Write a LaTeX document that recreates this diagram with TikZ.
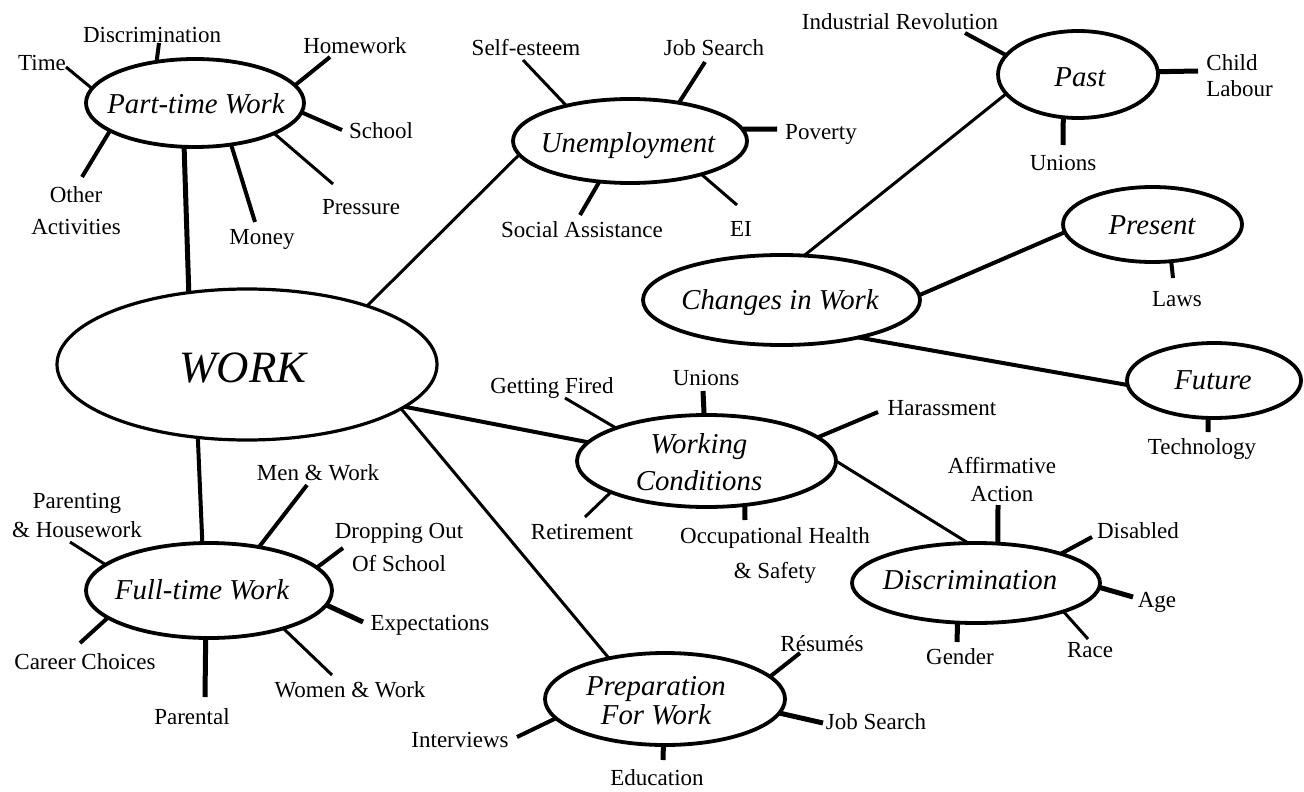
\documentclass[tikz,border=0pt]{standalone}
\usepackage{fontspec}
\setmainfont{Liberation Serif}
\usetikzlibrary{shapes.geometric}

\tikzset{
  topic/.style={draw, ellipse, line width=1.9pt, inner sep=0pt, outer sep=0pt, fill=white},
  topictext/.style={font=\fontsize{14.4}{18}\selectfont\itshape, inner sep=0pt, text height=9.5pt, text depth=0pt},
  topictwo/.style={font=\fontsize{14.4}{18.5}\selectfont\itshape, inner sep=0pt, align=center},
  leaf/.style={font=\fontsize{11.5}{15}\selectfont, inner sep=0pt, text height=7.6pt, text depth=0pt},
  leaftwo/.style={font=\fontsize{11.5}{15}\selectfont, inner sep=0pt, align=center},
  thinline/.style={line width=1.5pt},
  spoke/.style={line width=2pt},
  heavy/.style={line width=2.5pt},
}

\begin{document}
\begin{tikzpicture}[x=0.5pt, y=-0.5pt]
\useasboundingbox (0,0) rectangle (1304,791);

% ---------- topic ellipses ----------
\node[topic, line width=1.6pt, minimum width=190pt, minimum height=75.5pt] (work) at (247,364.5) {};
\node[topic, minimum width=109pt, minimum height=44pt] (pt) at (195,103) {};
\node[topic, minimum width=117pt, minimum height=42pt] (un) at (630,141) {};
\node[topic, minimum width=80pt, minimum height=43.5pt] (past) at (1078,74.5) {};
\node[topic, minimum width=89.5pt, minimum height=37.5pt] (pres) at (1152.5,224.5) {};
\node[topic, minimum width=87pt, minimum height=37.5pt] (fut) at (1214,380.5) {};
\node[topic, minimum width=138.5pt, minimum height=45pt] (chg) at (781.5,300) {};
\node[topic, minimum width=129.5pt, minimum height=46pt] (wc) at (706.5,461) {};
\node[topic, minimum width=124pt, minimum height=40pt] (disc) at (976,583) {};
\node[topic, minimum width=123pt, minimum height=47.5pt] (ft) at (209,590.5) {};
\node[topic, minimum width=120pt, minimum height=46pt] (prep) at (665,699) {};

% ---------- topic texts ----------
\node[inner sep=0pt, font=\fontsize{22.4}{26}\selectfont\itshape, text height=14.8pt, text depth=0pt] (workT) at (243,368) {WORK};
\node[topictext] (ptT) at (196,104) {Part-time Work};
\node[topictext] (unT) at (628,143) {Unemployment};
\node[topictext] (pastT) at (1080,77) {Past};
\node[topictext] (presT) at (1152,225) {Present};
\node[topictext] (futT) at (1213,380) {Future};
\node[topictext] (chgT) at (780,300) {Changes in Work};
\node[topictwo] (wcT) at (699,462) {Working\\Conditions};
\node[topictext] (discT) at (970,580) {Discrimination};
\node[topictext] (ftT) at (202,590) {Full-time Work};
\node[topictwo, font=\fontsize{14.4}{14.5}\selectfont\itshape] (prepT) at (656,701) {Preparation\\For Work};

% ---------- leaf labels ----------
% Part-time Work
\node[leaf] (lTime) at (42,63) {Time};
\node[leaf] (lDiscPT) at (152,35) {Discrimination};
\node[leaf] (lHome) at (355,46) {Homework};
\node[leaf] (lSchool) at (381,131) {School};
\node[leaf] (lPress) at (361,207) {Pressure};
\node[leaf] (lMoney) at (262,237) {Money};
\node[leaftwo, font=\fontsize{11.5}{16}\selectfont] (lOther) at (76,211) {Other\\Activities};
% Unemployment
\node[leaf] (lSelf) at (526,48) {Self-esteem};
\node[leaf] (lJobU) at (714,48) {Job Search};
\node[leaf] (lPov) at (821,132) {Poverty};
\node[leaf] (lEI) at (741,229) {EI};
\node[leaf] (lSoc) at (582,230) {Social Assistance};
% Past / Present / Future
\node[leaf] (lInd) at (900,22) {Industrial Revolution};
\node[leaftwo, align=left, anchor=west, font=\fontsize{11.5}{13}\selectfont] (lChild) at (1206,76) {Child\\Labour};
\node[leaf] (lUnP) at (1063,163) {Unions};
\node[leaf] (lLaws) at (1177,299) {Laws};
\node[leaf] (lTech) at (1202,447) {Technology};
% Working Conditions
\node[leaf] (lFired) at (552,386) {Getting Fired};
\node[leaf] (lUnW) at (706,378) {Unions};
\node[leaf] (lHar) at (942,408) {Harassment};
\node[leaf] (lRet) at (582,532) {Retirement};
\node[leaftwo, font=\fontsize{11.5}{17.5}\selectfont] (lOcc) at (775,555) {Occupational Health\\\& Safety};
% Discrimination
\node[leaftwo, font=\fontsize{11.5}{14}\selectfont] (lAff) at (1002,480) {Affirmative\\Action};
\node[leaf] (lDis) at (1138,531) {Disabled};
\node[leaf] (lAge) at (1157,600) {Age};
\node[leaf] (lRace) at (1090,650) {Race};
\node[leaf] (lGen) at (960,657) {Gender};
% Full-time Work
\node[leaf] (lMen) at (318,473) {Men \& Work};
\node[leaftwo, font=\fontsize{11.5}{16.5}\selectfont] (lDrop) at (399,547) {Dropping Out\\Of School};
\node[leaf] (lExp) at (430,623) {Expectations};
\node[leaf] (lWom) at (350,690) {Women \& Work};
\node[leaf] (lPar) at (192,717) {Parental};
\node[leaf] (lCar) at (85,662) {Career Choices};
\node[leaftwo, font=\fontsize{11.5}{14.5}\selectfont] (lHouse) at (77,515) {Parenting\\\& Housework};
% Preparation For Work
\node[leaf] (lRes) at (822,644) {Résumés};
\node[leaf] (lJobP) at (876,722) {Job Search};
\node[leaf] (lInt) at (460,740) {Interviews};
\node[leaf] (lEdu) at (657,778) {Education};

% ---------- free ends of the spokes ----------
\coordinate (eTime) at (66,67);
\coordinate (eDiscPT) at (159,43);
\coordinate (eHome) at (330,57);
\coordinate (eSchool) at (342,130);
\coordinate (ePress) at (333,184);
\coordinate (eMoney) at (255,222);
\coordinate (eOther) at (82,177);
\coordinate (eSelf) at (523,60);
\coordinate (eJobU) at (705,62);
\coordinate (ePov) at (777,129);
\coordinate (eEI) at (737,205);
\coordinate (eSoc) at (580,215);
\coordinate (eInd) at (965,33);
\coordinate (eChild) at (1198,71);
\coordinate (eUnP) at (1063,145);
\coordinate (eLaws) at (1173,278);
\coordinate (eTech) at (1208,432);
\coordinate (eFired) at (565,398);
\coordinate (eUnW) at (703,391);
\coordinate (eHar) at (878,412);
\coordinate (eRet) at (585,517);
\coordinate (eOcc) at (745,520);
\coordinate (eAff) at (998,505);
\coordinate (eDis) at (1092,537);
\coordinate (eAge) at (1133,597);
\coordinate (eRace) at (1088,639);
\coordinate (eGen) at (957,642);
\coordinate (eMen) at (307,485);
\coordinate (eDrop) at (343,548);
\coordinate (eExp) at (363,622);
\coordinate (eWom) at (332,675);
\coordinate (ePar) at (205,697);
\coordinate (eCar) at (80,643);
\coordinate (eHouse) at (70,542);
\coordinate (eRes) at (800,653);
\coordinate (eJobP) at (823,723);
\coordinate (eInt) at (517,737);
\coordinate (eEdu) at (663,760);

% ---------- connectors between topics ----------
\draw[heavy] (pt.256.9) -- (work.129.8);
\draw[thinline] (work.26.4) -- (un.187.1);
\draw[spoke] (work.-15.2) -- (wc.171.5);
\draw[thinline] (work.-16.7) -- (prep.144.1);
\draw[spoke] (work.-124.2) -- (ft.98.3);
\draw[thinline] (past.195.3) -- (chg.63);
\draw[spoke] (chg.2.1) -- (pres.185.1);
\draw[spoke] (chg.-26.6) -- (fut.183.3);
\draw[thinline] (wc.-0.9) -- (disc.101);

% ---------- spokes ----------
\draw[thinline] (pt.172.9) -- (eTime);
\draw[spoke] (pt.133.6) -- (eDiscPT);
\draw[spoke] (pt.10) -- (eHome);
\draw[spoke] (pt.-5.9) -- (eSchool);
\draw[thinline] (pt.-21.8) -- (ePress);
\draw[spoke] (pt.-49.2) -- (eMoney);
\draw[spoke] (pt.-162.7) -- (eOther);

\draw[thinline] (un.151.7) -- (eSelf);
\draw[spoke] (un.38.9) -- (eJobU);
\draw[heavy] (un.6.2) -- (ePov);
\draw[thinline] (un.-25) -- (eEI);
\draw[spoke] (un.-127.3) -- (eSoc);

\draw[spoke] (past.165) -- (eInd);
\draw[heavy] (past.2.9) -- (eChild);
\draw[heavy] (past.-109.2) -- (eUnP);
\draw[spoke] (pres.-63.4) -- (eLaws);
\draw[heavy] (fut.-99) -- (eTech);

\draw[thinline] (wc.160.5) -- (eFired);
\draw[heavy] (wc.93.7) -- (eUnW);
\draw[spoke] (wc.12.6) -- (eHar);
\draw[thinline] (wc.-162.4) -- (eRet);
\draw[heavy] (wc.-49.7) -- (eOcc);

\draw[heavy] (disc.61.2) -- (eAff);
\draw[spoke] (disc.19) -- (eDis);
\draw[heavy] (disc.-2.3) -- (eAge);
\draw[thinline] (disc.-18.3) -- (eRace);
\draw[heavy] (disc.-115.4) -- (eGen);

\draw[spoke] (ft.41.3) -- (eMen);
\draw[spoke] (ft.12) -- (eDrop);
\draw[heavy] (ft.-7.2) -- (eExp);
\draw[thinline] (ft.-27.8) -- (eWom);
\draw[heavy] (ft.-94.8) -- (ePar);
\draw[spoke] (ft.-165.3) -- (eCar);
\draw[thinline] (ft.166.8) -- (eHouse);

\draw[spoke] (prep.12.4) -- (eRes);
\draw[heavy] (prep.-7.6) -- (eJobP);
\draw[spoke] (prep.-170.9) -- (eInt);
\draw[heavy] (prep.-92.5) -- (eEdu);
\end{tikzpicture}
\end{document}
